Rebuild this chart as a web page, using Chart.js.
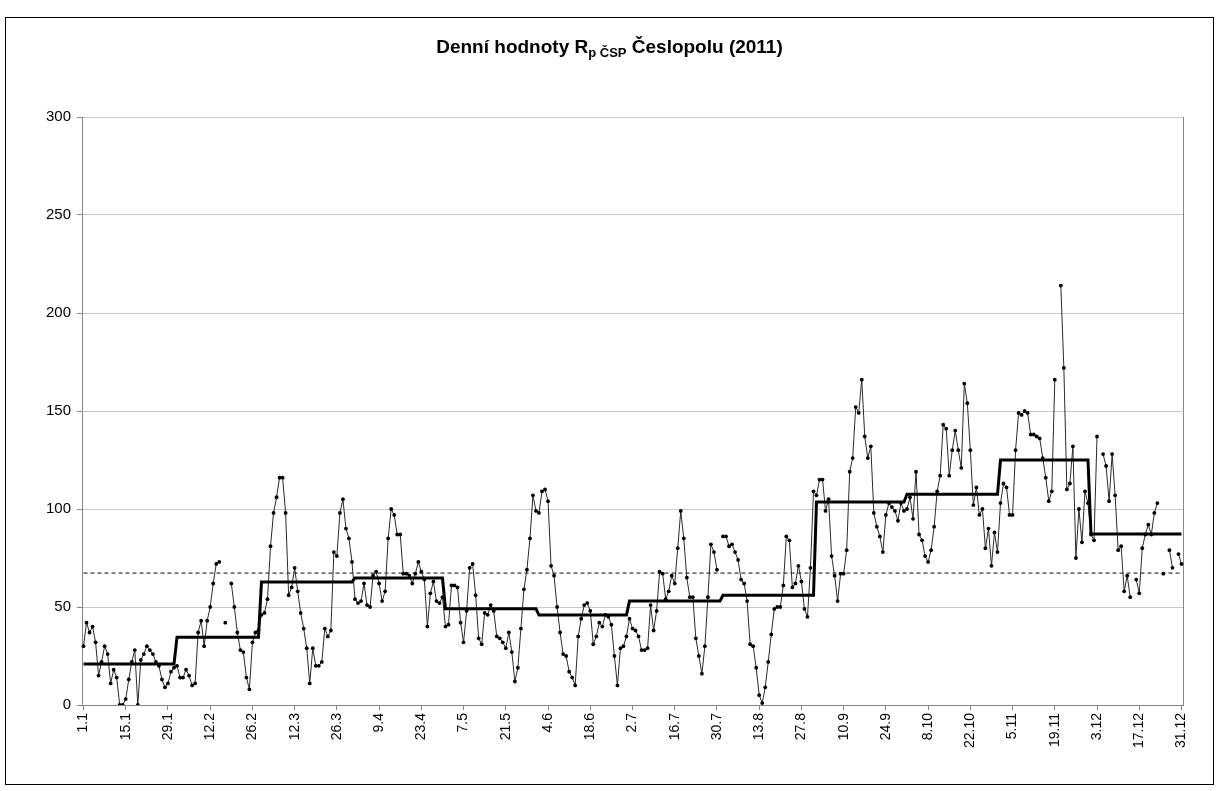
<!DOCTYPE html>
<html>
<head>
<meta charset="utf-8">
<script src="https://cdn.jsdelivr.net/npm/chart.js@4.4.1/dist/chart.umd.min.js"></script>
<style>
html, body { margin: 0; padding: 0; background: #fff; }
#wrap { position: relative; width: 1219px; height: 791px; }
#frame { position: absolute; left: 5px; top: 17px; width: 1209px; height: 768px; border: 1px solid #000; box-sizing: border-box; }
#title { position: absolute; top: 36px; left: 0; width: 1219px; text-align: center;
  font: bold 19px "Liberation Sans", Arial, sans-serif; color: #000; }
#title sub { font-size: 13px; vertical-align: -4px; line-height: 0; }
canvas { position: absolute; left: 0; top: 0; }
</style>
</head>
<body>
<div id="wrap">
  <div id="frame"></div>
  <canvas id="canvas" width="1219" height="791"></canvas>
  <div id="title">Denní hodnoty R<sub>p ČSP</sub> Česlopolu (2011)</div>
</div>
<script>
// daily values per month (gaps = null)
var jan = [30,42,37,40,32,15,22,30,26,11,18,14,0,0,3,13,22,28,0,23,26,30,28,26,22,20,13,9,11,17,19];
var feb = [20,14,14,18,15,10,11,37,43,30,43,50,62,72,73,null,42,null,62,50,37,28,27,14,8,32,37,38];
var mar = [46,47,54,81,98,106,116,116,98,56,60,70,58,47,39,29,11,29,20,20,22,39,35,38,78,76,98,105,90,85,73];
var apr = [54,52,53,62,51,50,66,68,62,53,58,85,100,97,87,87,67,67,66,62,67,73,68,64,40,57,63,53,52,55];
var may = [40,41,61,61,60,42,32,48,70,72,56,34,31,47,46,51,48,35,34,32,29,37,27,12,19,39,59,69,85,107,99];
var jun = [98,109,110,104,71,66,50,37,26,25,17,14,10,35,44,51,52,48,31,35,42,40,46,45,41,25,10,29,30,35];
var jul = [44,39,38,35,28,28,29,51,38,48,68,67,54,58,66,62,80,99,85,65,55,55,34,25,16,30,55,82,78,69,null];
var aug = [86,86,81,82,78,74,64,62,53,31,30,19,5,1,9,22,36,49,50,50,61,86,84,60,62,71,63,49,45,70,109];
var sep = [107,115,115,99,105,76,66,53,67,67,79,119,126,152,149,166,137,126,132,98,91,86,78,97,103,101,99,94,103,99];
var oct = [100,106,95,119,87,84,76,73,79,91,109,117,143,141,117,130,140,130,121,164,154,130,102,111,97,100,80,90,71,88,78];
var nov = [103,113,111,97,97,130,149,148,150,149,138,138,137,136,126,116,104,109,166,null,214,172,110,113,132,75,100,83,109,103];
var dec = [87,84,137,null,128,122,104,128,107,79,81,58,66,55,null,64,57,80,87,92,87,98,103,null,67,null,79,70,null,77,72];

var monthDays = [31,28,31,30,31,30,31,31,30,31,30,31];
var monthlyMean = [20.9, 34.6, 62.8, 64.8, 49.1, 45.9, 53.0, 56.0, 103.6, 107.5, 125.0, 87.2];
var yearlyMean = 67.3;
var tickEvery = 14;

var daily = [].concat(jan, feb, mar, apr, may, jun, jul, aug, sep, oct, nov, dec);
var labels = [];
var monthly = [];
for (var m = 0; m < 12; m++) {
    for (var d = 1; d <= monthDays[m]; d++) {
        labels.push(d + '.' + (m + 1));
        monthly.push(monthlyMean[m]);
    }
}
var yearly = labels.map(function(){ return yearlyMean; });

var font = '"Liberation Sans", Arial, sans-serif';
var axisGray = '#868686';

var ctx = document.getElementById('canvas').getContext('2d');
var chart = new Chart(ctx, {
    type: 'line',
    data: {
        labels: labels,
        datasets: [{
            label: 'měsíční průměr',
            data: monthly,
            borderColor: '#000',
            borderWidth: 3,
            pointRadius: 0,
            order: 0
        }, {
            label: 'denní hodnoty',
            data: daily,
            borderColor: '#2a2a2a',
            borderWidth: 1,
            pointRadius: 1.9,
            pointBackgroundColor: '#000',
            pointBorderWidth: 0,
            spanGaps: false,
            order: 1
        }, {
            label: 'roční průměr',
            data: yearly,
            borderColor: '#000',
            borderWidth: 1,
            borderDash: [4, 3],
            pointRadius: 0,
            order: 2
        }]
    },
    options: {
        responsive: false,
        animation: false,
        devicePixelRatio: 1,
        layout: { padding: { top: 117, left: 0, right: 0, bottom: 0 } },
        plugins: { legend: { display: false }, tooltip: { enabled: false } },
        scales: {
            x: {
                type: 'category',
                offset: true,
                grid: { display: true, drawOnChartArea: false, drawTicks: true, tickLength: 5, color: axisGray },
                border: { color: axisGray },
                ticks: { autoSkip: false, maxRotation: 90, minRotation: 90, padding: 3,
                         color: '#000', font: { family: font, size: 14 } },
                afterBuildTicks: function(scale){
                    scale.ticks = scale.ticks.filter(function(t){ return t.value % tickEvery === 0; });
                },
                afterFit: function(scale){ scale.height = 86; }
            },
            y: {
                min: 0, max: 300,
                ticks: { stepSize: 50, padding: 6, color: '#000', font: { family: font, size: 15 } },
                grid: { color: '#c8c8c8', tickColor: axisGray, tickLength: 5 },
                border: { color: axisGray },
                afterFit: function(scale){ scale.width = 82; }
            },
            y2: {
                position: 'right',
                ticks: { display: false },
                grid: { display: false },
                border: { display: true, color: axisGray },
                afterFit: function(scale){ scale.width = 36; }
            }
        }
    }
});
</script>
</body>
</html>
